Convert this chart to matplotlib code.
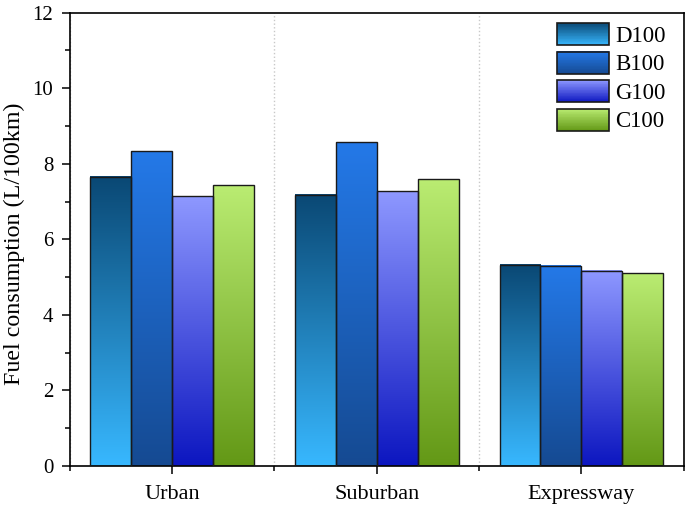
import numpy as np
import matplotlib
matplotlib.use('Agg')
import matplotlib.pyplot as plt
from matplotlib.colors import LinearSegmentedColormap
from matplotlib.patches import Rectangle
from matplotlib.legend_handler import HandlerBase
from matplotlib.ticker import MultipleLocator, FixedLocator

plt.rcParams['font.family'] = ['Liberation Serif', 'DejaVu Serif']
plt.rcParams['font.size'] = 16

# data
categories = ['Urban', 'Suburban', 'Expressway']
fuels = ['D100', 'B100', 'G100', 'C100']
values = {
    'D100': [7.66, 7.18, 5.33],
    'B100': [8.34, 8.57, 5.30],
    'G100': [7.15, 7.28, 5.17],
    'C100': [7.44, 7.60, 5.11],
}
# (top colour, bottom colour) for each fuel
grad_colors = {
    'D100': ('#0a4874', '#38b8ff'),
    'B100': ('#2479e8', '#154a92'),
    'G100': ('#8e98ff', '#0c16c0'),
    'C100': ('#baec72', '#639816'),
}

bar_w = 0.2


def make_cmap(name):
    top, bottom = grad_colors[name]
    return LinearSegmentedColormap.from_list(name, [bottom, top])


class GradientHandler(HandlerBase):
    def __init__(self, name, n=30):
        super().__init__()
        self.name = name
        self.n = n

    def create_artists(self, legend, orig_handle, xdescent, ydescent,
                       width, height, fontsize, trans):
        cmap = make_cmap(self.name)
        arts = []
        h = height / self.n
        for i in range(self.n):
            r = Rectangle((-xdescent, -ydescent + i * h), width, h * 1.05,
                          facecolor=cmap((i + 0.5) / self.n), edgecolor='none',
                          transform=trans)
            arts.append(r)
        arts.append(Rectangle((-xdescent, -ydescent), width, height,
                              facecolor='none', edgecolor='#1a1a1a', lw=1.2,
                              transform=trans))
        return arts


fig = plt.figure(figsize=(6.85, 5.08), dpi=100)
ax = fig.add_axes([0.102, 0.083, 0.896, 0.892])

x = np.arange(len(categories))
grad = np.linspace(0, 1, 256).reshape(-1, 1)
handles = []
for k, name in enumerate(fuels):
    pos = x - 0.4 + bar_w * k + bar_w / 2
    cmap = make_cmap(name)
    bars = ax.bar(pos, values[name], width=bar_w, facecolor='none',
                  edgecolor='#1a1a1a', lw=1.0, zorder=3)
    for b in bars:
        x0 = b.get_x()
        h = b.get_height()
        ax.imshow(grad, extent=[x0, x0 + bar_w, 0, h], origin='lower',
                  cmap=cmap, aspect='auto', zorder=2)
    handles.append(bars[0])

ax.set_xlim(-0.5, 2.5)
ax.set_ylim(0, 12)
ax.set_xticks(x)
ax.set_xticklabels(categories, fontsize=16)
ax.xaxis.set_minor_locator(FixedLocator([-0.5, 0.5, 1.5, 2.5]))
ax.yaxis.set_major_locator(MultipleLocator(2))
ax.yaxis.set_minor_locator(MultipleLocator(1))
ax.tick_params(which='major', direction='out', length=6, width=1.1)
ax.tick_params(which='minor', direction='out', length=3.5, width=1.1)
ax.tick_params(axis='y', which='major', pad=6, labelsize=15)
ax.tick_params(axis='x', which='major', pad=8)
ax.grid(which='minor', axis='x', color='#c8c8c8', linestyle=':', lw=1.0)
for s in ax.spines.values():
    s.set_linewidth(1.2)
ax.set_ylabel('Fuel consumption (L/100km)', fontsize=17.3, va='center')
ax.yaxis.set_label_coords(-0.091, 0.49)

leg = ax.legend(handles, fuels, loc='upper right', bbox_to_anchor=(0.987, 1.0),
                frameon=False,
                handler_map={h: GradientHandler(n) for h, n in zip(handles, fuels)},
                handlelength=2.25, handleheight=1.12, labelspacing=0.2,
                handletextpad=0.27, borderaxespad=0.05, fontsize=16.5)

fig.savefig('out.png', dpi=100)
